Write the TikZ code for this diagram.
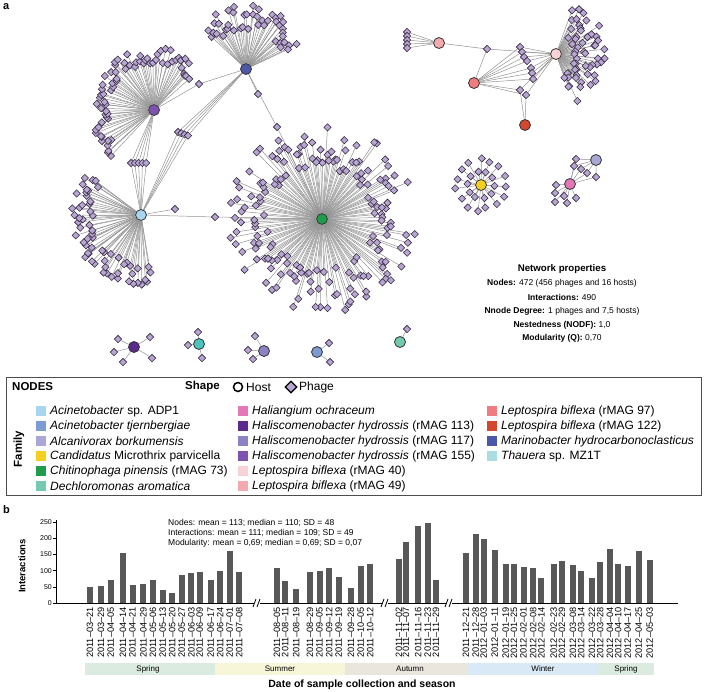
\documentclass[tikz,border=0pt]{standalone}
\usepackage{fontspec}
\setmainfont{Liberation Sans}
\usetikzlibrary{shapes.geometric,calc}
\pgfdeclarelayer{edges}
\pgfsetlayers{edges,main}

\definecolor{phagefill}{HTML}{B7A6D2}
\definecolor{phageline}{HTML}{35283F}
\definecolor{linkgray}{HTML}{939393}
\definecolor{barfill}{HTML}{585858}
\definecolor{cADP}{HTML}{A6D5EE}
\definecolor{cTJE}{HTML}{7C9BD3}
\definecolor{cALC}{HTML}{A9A7D6}
\definecolor{cMIC}{HTML}{F4D01E}
\definecolor{cCHI}{HTML}{1E9B4B}
\definecolor{cDEC}{HTML}{74CAB0}
\definecolor{cHAL}{HTML}{E278B6}
\definecolor{cHa}{HTML}{5B2A8C}
\definecolor{cHb}{HTML}{8E82C4}
\definecolor{cHc}{HTML}{7E52B0}
\definecolor{cLa}{HTML}{F8D2D6}
\definecolor{cLb}{HTML}{F3A9B0}
\definecolor{cLc}{HTML}{EF7C7E}
\definecolor{cLd}{HTML}{D4472F}
\definecolor{cMAR}{HTML}{4B58A8}
\definecolor{cTHA}{HTML}{A9DDE2}
\definecolor{cTHAnet}{HTML}{4CC4BC}
\definecolor{cSpr}{HTML}{DCEBDF}
\definecolor{cSum}{HTML}{F7F6D9}
\definecolor{cAut}{HTML}{EAE6DE}
\definecolor{cWin}{HTML}{D9E9F6}

\begin{document}
\begin{tikzpicture}[x=1pt,y=-1pt,
  host/.style={circle,draw=black!80,line width=0.8pt,minimum size=11pt,inner sep=0pt},
  phage/.style={diamond,draw=phageline,fill=phagefill,line width=0.55pt,minimum size=7.5pt,inner sep=0pt},
  link/.style={draw=linkgray,line width=0.5pt},
  keybox/.style={minimum size=9.5pt,inner sep=0pt},
  keytext/.style={anchor=west,inner sep=0pt,font=\fontsize{12}{13}\selectfont},
  props/.style={inner sep=0pt,font=\fontsize{8.5}{10}\selectfont},
  datelab/.style={rotate=90,anchor=east,inner sep=0pt,font=\fontsize{9.2}{10}\selectfont},
  season/.style={inner sep=0pt,font=\fontsize{8}{9}\selectfont},
  panel/.style={anchor=west,inner sep=0pt,font=\bfseries\fontsize{11}{13}\selectfont}]

\useasboundingbox (0,0) rectangle (706,691);
\pgfmathsetseed{42}

% panel a: host-phage network
\node[panel] at (3,7) {a};

\node[host,fill=cHc] (h155) at (154,110) {};
\node[host,fill=cMAR] (marin) at (246,69) {};
\node[host,fill=cADP] (adp1) at (141,215) {};
\node[host,fill=cCHI] (chiti) at (322,219) {};
\node[host,fill=cLb] (l49) at (439,43) {};
\node[host,fill=cLc] (l97) at (474,83) {};
\node[host,fill=cLd] (l122) at (525,125) {};
\node[host,fill=cLa] (l40) at (556,54) {};
\node[host,fill=cMIC] (micro) at (481,185) {};
\node[host,fill=cHAL] (halia) at (570,184) {};
\node[host,fill=cALC] (alcan) at (596,160) {};
\node[host,fill=cHa] (h113) at (134,347) {};
\node[host,fill=cTHAnet] (thaue) at (199,344) {};
\node[host,fill=cHb] (h117) at (264,351) {};
\node[host,fill=cTJE] (tjern) at (317,352) {};
\node[host,fill=cDEC] (dechl) at (400,342) {};

% phage fans
\foreach \i in {1,...,175}{
  \pgfmathsetmacro{\phA}{360*frac(0.381966*\i)}
  \pgfmathsetmacro{\phR}{50+44*rnd}
  \node[phage] (c\i) at ($(chiti)+(\phA:\phR)$) {};
}
\foreach \i in {0,...,59}{
  \pgfmathsetmacro{\phA}{78+2.35*\i+4*rnd}
  \pgfmathsetmacro{\phR}{48+22*rnd}
  \node[phage] (a\i) at ($(adp1)+(\phA:\phR)$) {};
}
\foreach \i in {0,...,68}{
  \pgfmathsetmacro{\phA}{132+2.7*\i+3*rnd}
  \pgfmathsetmacro{\phR}{46+17*rnd}
  \node[phage] (p\i) at ($(h155)+(\phA:\phR)$) {};
}
\foreach \i in {0,...,43}{
  \pgfmathsetmacro{\phA}{222+2.6*\i+3*rnd}
  \pgfmathsetmacro{\phR}{40+24*rnd}
  \node[phage] (m\i) at ($(marin)+(\phA:\phR)$) {};
}
\foreach \i in {0,...,54}{
  \pgfmathsetmacro{\phA}{-70+2.6*\i+3*rnd}
  \pgfmathsetmacro{\phR}{18+34*rnd}
  \node[phage] (f\i) at ($(l40)+(\phA:\phR)$) {};
}
\foreach \i in {0,...,9}{
  \pgfmathsetmacro{\phA}{36*\i+10*rnd}
  \node[phage] (yi\i) at ($(micro)+(\phA:13.5)$) {};
}
\foreach \i in {0,...,14}{
  \pgfmathsetmacro{\phA}{24*\i+8*rnd}
  \pgfmathsetmacro{\phR}{23+4*rnd}
  \node[phage] (yo\i) at ($(micro)+(\phA:\phR)$) {};
}

% shared phages
\node[phage] (s1) at (199,84) {};
\node[phage] (s2) at (175,209) {};
\node[phage] (s3) at (215,217) {};
\node[phage] (s4) at (258,94) {};
\node[phage] (s5) at (277,127) {};
\foreach \k in {0,...,4}
  \node[phage] (ya\k) at (131+3.8*\k,163) {};
\foreach \k in {0,...,3}
  \node[phage] (yb\k) at (178+3.3*\k,132+1.2*\k) {};

% Leptospira group
\foreach \k in {1,...,5}
  \node[phage] (tl\k) at (407,28+4*\k) {};
\node[phage] (tx) at (487,49) {};
\foreach \p/\x/\y in {ta1/520/47,ta2/522/52,ta3/524/57,ta4/527/61,tb1/531/68,tb2/532/73,tb3/533/79,tc1/520/90,tc2/526/95}
  \node[phage] (\p) at (\x,\y) {};

% Haliangium / Alcanivorax
\foreach \p/\x/\y in {hs1/576/159,hs2/574/166,hs3/581/169,hs4/587/173,hs5/596/177,
  hp1/556/185,hp2/555/193,hp3/555/202,hp4/564/196,hp5/567/203,hp6/576/198}
  \node[phage] (\p) at (\x,\y) {};

% small clusters
\foreach \p/\x/\y in {q1/118/339,q2/114/352,q3/123/362,q4/150/337,q5/152/358,
  q6/188/345,q7/198/332,q8/202/358,q9/255/336,q10/248/350,q11/253/359,
  q12/329/343,q13/330/362,q14/407/329}
  \node[phage] (\p) at (\x,\y) {};

% all interactions, under the nodes
\begin{pgfonlayer}{edges}
\foreach \i in {1,...,175} \draw[link] (chiti) -- (c\i);
\foreach \i in {0,...,59} \draw[link] (adp1) -- (a\i);
\foreach \i in {0,...,68} \draw[link] (h155) -- (p\i);
\foreach \i in {0,...,43} \draw[link] (marin) -- (m\i);
\foreach \i in {0,...,54} \draw[link] (l40) -- (f\i);
\foreach \i in {0,...,9} \draw[link] (micro) -- (yi\i);
\foreach \i in {0,...,14} \draw[link] (micro) -- (yo\i);
\draw[link] (h155) -- (s1) -- (marin);
\draw[link] (adp1) -- (s2);
\draw[link] (adp1) -- (s3) -- (chiti);
\draw[link] (marin) -- (s4);
\draw[link] (marin) -- (s5) -- (chiti);
\foreach \k in {0,...,4} \draw[link] (adp1) -- (ya\k) -- (h155);
\foreach \k in {0,...,3} \draw[link] (adp1) -- (yb\k) -- (marin);
\foreach \k in {1,...,5} \draw[link] (l49) -- (tl\k);
\draw[link] (l49) -- (tx) -- (l40);
\draw[link] (l97) -- (tx);
\foreach \p in {ta1,ta2,ta3,ta4,tb1,tb2,tb3,tc1,tc2} \draw[link] (l97) -- (\p) -- (l40);
\foreach \p in {tc1,tc2} \draw[link] (l122) -- (\p);
\foreach \p in {hs1,hs2,hs3,hs4,hs5} \draw[link] (halia) -- (\p) -- (alcan);
\foreach \p in {hp1,hp2,hp3,hp4,hp5,hp6} \draw[link] (halia) -- (\p);
\foreach \h/\p in {h113/q1,h113/q2,h113/q3,h113/q4,h113/q5,thaue/q6,thaue/q7,thaue/q8,
  h117/q9,h117/q10,h117/q11,tjern/q12,tjern/q13,dechl/q14}
  \draw[link] (\h) -- (\p);
\end{pgfonlayer}

% network properties
\node[inner sep=0pt,font=\bfseries\fontsize{9.7}{11}\selectfont] (nprop) at (562,269) {Network properties};
\node[props] at (562,283) {\textbf{Nodes:} 472 (456 phages and 16 hosts)};
\node[props] at (562,297) {\textbf{Interactions:} 490};
\node[props] at (562,311) {\textbf{Nnode Degree:} 1 phages and 7,5 hosts)};
\node[props] at (562,325) {\textbf{Nestedness (NODF):} 1,0};
\node[props] at (562,338) {\textbf{Modularity (Q):} 0,70};

% legend
\draw[line width=0.8pt,draw=black!70] (6,377) rectangle (701,495);
\node[keytext,font=\bfseries\fontsize{11.5}{13}\selectfont] at (12,387) {NODES};
\node[keytext,font=\bfseries\fontsize{11.5}{13}\selectfont] at (185,387) {Shape};
\node[circle,draw=black,line width=1.5pt,minimum size=9pt,inner sep=0pt] (khost) at (238,387) {};
\node[keytext] at (246,387) {Host};
\node[diamond,draw=black,fill=phagefill,line width=1.3pt,minimum size=12pt,inner sep=0pt] (kphage) at (291,387) {};
\node[keytext] at (299,387) {Phage};
\node[rotate=90,inner sep=0pt,font=\bfseries\fontsize{11.5}{13}\selectfont] at (19,449) {Family};

\foreach \c/\t [count=\k] in {cADP/\textit{Acinetobacter} sp. ADP1,
  cTJE/\textit{Acinetobacter tjernbergiae},
  cALC/\textit{Alcanivorax borkumensis},
  cMIC/\textit{Candidatus} Microthrix parvicella,
  cCHI/\textit{Chitinophaga pinensis} (rMAG 73),
  cDEC/\textit{Dechloromonas aromatica}}{
  \node[keybox,fill=\c] at (41,396+15*\k) {};
  \node[keytext] at (50,396+15*\k) {\t};
}
\foreach \c/\t [count=\k] in {cHAL/\textit{Haliangium ochraceum},
  cHa/\textit{Haliscomenobacter hydrossis} (rMAG 113),
  cHb/\textit{Haliscomenobacter hydrossis} (rMAG 117),
  cHc/\textit{Haliscomenobacter hydrossis} (rMAG 155),
  cLa/\textit{Leptospira biflexa} (rMAG 40),
  cLb/\textit{Leptospira biflexa} (rMAG 49)}{
  \node[keybox,fill=\c] at (243,396+15*\k) {};
  \node[keytext] at (252,396+15*\k) {\t};
}
\foreach \c/\t [count=\k] in {cLc/\textit{Leptospira biflexa} (rMAG 97),
  cLd/\textit{Leptospira biflexa} (rMAG 122),
  cMAR/\textit{Marinobacter hydrocarbonoclasticus},
  cTHA/\textit{Thauera} sp. MZ1T}{
  \node[keybox,fill=\c] at (492,396+15*\k) {};
  \node[keytext] at (501,396+15*\k) {\t};
}

% panel b: interactions per sample
\node[panel] at (3,510) {b};
\draw[line width=0.6pt] (56,603) -- (56,520);
\foreach \v in {0,50,...,250}{
  \draw[line width=0.6pt] (53,603-0.324*\v) -- (56,603-0.324*\v);
  \node[anchor=east,inner sep=0pt,font=\fontsize{7}{8}\selectfont] at (52,603-0.324*\v) {\v};
}
\node[rotate=90,inner sep=0pt,font=\bfseries\fontsize{9.5}{11}\selectfont] at (22,566) {Interactions};

\node[props,anchor=west] at (168,523) {Nodes: mean = 113; median = 110; SD = 48};
\node[props,anchor=west] at (168,533) {Interactions: mean = 111; median = 109; SD = 49};
\node[props,anchor=west] at (168,543) {Modularity: mean = 0,69; median = 0,69; SD = 0,07};

\foreach \x/\v/\t in {90/48/2011--03--21,101/52/2011--03--29,110.6/70/2011--04--05,
  122.9/153/2011--04--14,132.5/56/2011--04--21,143.4/60/2011--04--29,153/70/2011--05--06,
  162.6/39/2011--05--13,172.2/31/2011--05--20,181.8/86/2011--05--27,191.4/93/2011--06--03,
  199.6/97/2011--06--09,210.6/72/2011--06--17,220.2/100/2011--06--24,229.7/160/2011--07--01,
  239.3/97/2011--07--08,
  277/109/2011--08--05,285.2/68/2011--08--11,296.2/43/2011--08--19,309.9/97/2011--08--29,
  319.5/99/2011--09--05,329.1/109/2011--09--12,338.7/79/2011--09--19,351/45/2011--09--28,
  360.6/113/2011--10--05,370.2/120/2011--10--12,
  399/136/2011--11--02,405.9/187/2011--11--07,418.2/238/2011--11--16,427.8/247/2011--11--23,
  436/70/2011--11--29,
  466/154/2011--12--21,475.6/213/2011--12--28,483.8/198/2012--01--03,494.8/163/2012--01--11,
  505.7/119/2012--01--19,514/120/2012--01--25,523.5/111/2012--02--01,533.1/108/2012--02--08,
  541.4/76/2012--02--14,553.7/119/2012--02--23,561.9/130/2012--02--29,572.9/117/2012--03--08,
  581.1/99/2012--03--14,592/77/2012--03--22,600.3/127/2012--03--28,609.9/166/2012--04--04,
  618.1/119/2012--04--10,627.7/114/2012--04--17,638.6/159/2012--04--25,649.6/133/2012--05--03}{
  \fill[barfill] (\x-3,603) rectangle (\x+3,603-0.324*\v);
  \node[datelab] at (\x,607) {\t};
}
\draw[line width=0.8pt] (56,603) -- (678,603);
\foreach \bx in {257,385,449}{
  \fill[white] (\bx-3,599) rectangle (\bx+3,607);
  \draw[line width=0.8pt] (\bx-4,607) -- (\bx-1,599);
  \draw[line width=0.8pt] (\bx,607) -- (\bx+3,599);
}

% seasons
\fill[cSpr] (85,663) rectangle (215,675);
\fill[cSum] (215,663) rectangle (345,675);
\fill[cAut] (345,663) rectangle (468,675);
\fill[cWin] (468,663) rectangle (597,675);
\fill[cSpr] (597,663) rectangle (654,675);
\node[season] at (148,669) {Spring};
\node[season] at (280,669) {Summer};
\node[season] at (410,669) {Autumn};
\node[season] at (543,669) {Winter};
\node[season] at (626,669) {Spring};
\node[inner sep=0pt,font=\bfseries\fontsize{10.5}{12}\selectfont] at (362,685) {Date of sample collection and season};

\end{tikzpicture}
\end{document}
